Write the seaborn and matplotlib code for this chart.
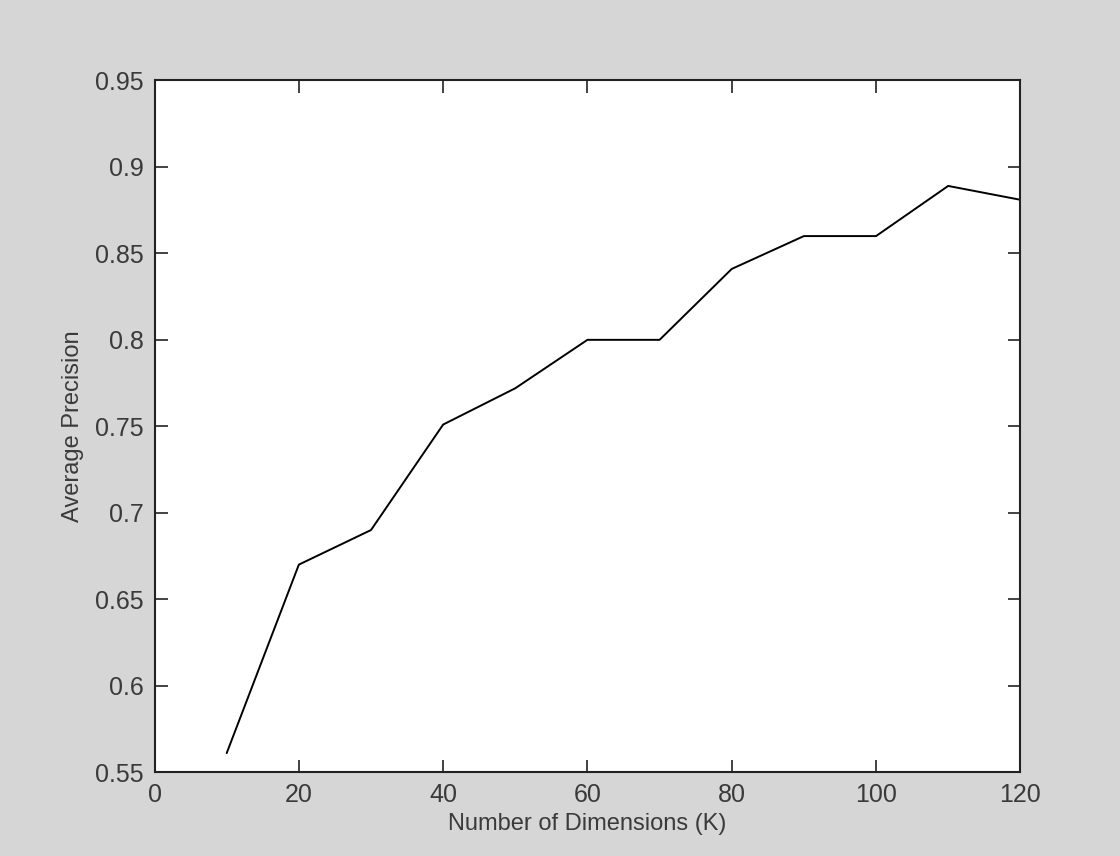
import matplotlib
matplotlib.use("Agg")
import matplotlib.pyplot as plt
import seaborn as sns
import pandas as pd

# valori
dimensioni = [10, 20, 30, 40, 50, 60, 70, 80, 90, 100, 110, 120]
precisione = [0.561, 0.670, 0.690, 0.751, 0.772, 0.800, 0.800, 0.841, 0.860, 0.860, 0.889, 0.881]
x_ticks = [0, 20, 40, 60, 80, 100, 120]
y_ticks = [0.55, 0.6, 0.65, 0.7, 0.75, 0.8, 0.85, 0.9, 0.95]

df = pd.DataFrame({"K": dimensioni, "AP": precisione})

sns.set_theme(style="white")
plt.rcParams["font.family"] = ["Liberation Sans", "DejaVu Sans"]

colore_testo = "#3a3a3a"
fig = plt.figure(figsize=(11.2, 8.56), dpi=100, facecolor="#d6d6d6")
ax = fig.add_axes([0.138, 0.098, 0.773, 0.808])
ax.set_facecolor("white")

sns.lineplot(data=df, x="K", y="AP", color="black", linewidth=1.4, ax=ax)

ax.set_xlim(0, 120)
ax.set_ylim(0.55, 0.95)
ax.set_xticks(x_ticks)
ax.set_yticks(y_ticks)
ax.set_xticklabels([str(v) for v in x_ticks])
ax.set_yticklabels([f"{v:g}" for v in y_ticks])

ax.tick_params(
    direction="in", length=9, width=1.2, colors="#222222",
    top=True, right=True, bottom=True, left=True,
    labelsize=18, labelcolor=colore_testo, pad=8,
)
for lato in ax.spines.values():
    lato.set_color("#222222")
    lato.set_linewidth(1.5)

ax.set_xlabel("Number of Dimensions (K)", fontsize=17, color=colore_testo, labelpad=4)
ax.set_ylabel("Average Precision", fontsize=17, color=colore_testo, labelpad=8)

fig.savefig("out.png", dpi=100, facecolor=fig.get_facecolor())
